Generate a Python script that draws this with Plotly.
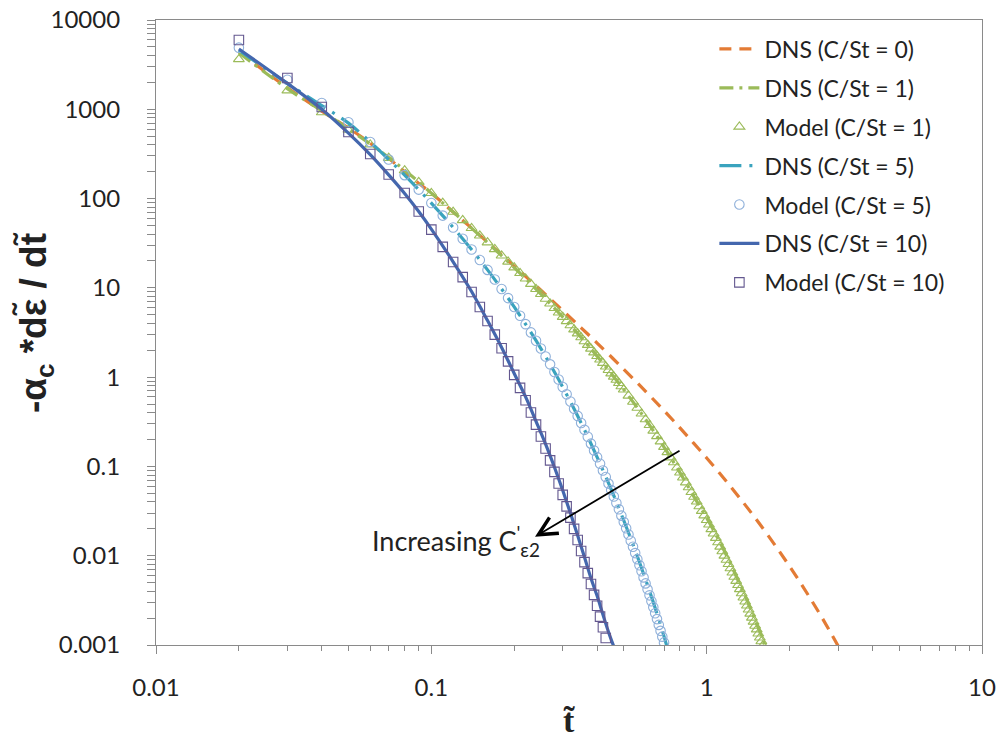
import math
import plotly.graph_objects as go

# ---------------- data ----------------
t_dns0 = [0.02, 0.03, 0.04, 0.05, 0.06, 0.07, 0.08, 0.09, 0.10, 0.12, 0.14, 0.17, 0.20, 0.25,
          0.30, 0.35, 0.40, 0.50, 0.60, 0.70, 0.80, 0.90, 1.0, 1.2, 1.4, 1.6, 1.8, 2.0, 2.2,
          2.4, 2.6, 2.8, 3.0]
y_dns0 = [4400, 1740, 955, 617, 417, 282, 200, 148, 115, 70.8, 46.7, 27.5, 17.5, 9.40,
          5.58, 3.57, 2.41, 1.225, 0.693, 0.422, 0.270, 0.180, 0.1245, 0.0636, 0.0350, 0.0203,
          0.01223, 0.00762, 0.00488, 0.00318, 0.00212, 0.00143, 0.00098]

t_dns1 = [0.02, 0.03, 0.04, 0.05, 0.06, 0.07, 0.08, 0.09, 0.10, 0.12, 0.15, 0.20, 0.25, 0.30,
          0.35, 0.40, 0.50, 0.60, 0.70, 0.80, 0.90, 1.0, 1.1, 1.2, 1.3, 1.4, 1.5, 1.6, 1.65]
y_dns1 = [4300, 1700, 960, 600, 410, 288, 208, 154, 115, 70.9, 38.5, 16.9, 8.52, 4.72,
          2.79, 1.72, 0.726, 0.336, 0.165, 0.0853, 0.0456, 0.0265, 0.0155, 0.0091, 0.0053,
          0.0032, 0.0019, 0.00115, 0.00088]

t_mod1 = [0.02, 0.03, 0.04, 0.05, 0.06, 0.07, 0.08, 0.09, 0.10, 0.11, 0.12, 0.13, 0.14, 0.15,
          0.16, 0.17, 0.18, 0.19, 0.20, 0.21, 0.22, 0.23, 0.24, 0.25, 0.26, 0.27, 0.28, 0.29,
          0.30, 0.31, 0.32, 0.33, 0.34, 0.35, 0.36, 0.37, 0.38, 0.39, 0.40, 0.41, 0.42, 0.43,
          0.44, 0.45, 0.46, 0.47, 0.48, 0.49, 0.50, 0.52, 0.54, 0.56, 0.58, 0.60, 0.62, 0.64,
          0.66, 0.68, 0.70, 0.72, 0.74, 0.76, 0.78, 0.80, 0.82, 0.84, 0.86, 0.88, 0.90, 0.92,
          0.94, 0.96, 0.98, 1.00, 1.02, 1.04, 1.06, 1.08, 1.10, 1.12, 1.14, 1.16, 1.18, 1.20,
          1.22, 1.24, 1.26, 1.28, 1.30, 1.32, 1.34, 1.36, 1.38, 1.40, 1.42, 1.44, 1.46, 1.48,
          1.50, 1.52, 1.54, 1.56, 1.58, 1.60]
y_mod1 = [3630, 1622, 923, 589, 403, 285, 207, 153, 115, 89.4, 70.9, 57.2, 46.7, 38.5,
          32.2, 27.1, 23.0, 19.6, 16.9, 14.6, 12.7, 11.06, 9.69, 8.52, 7.53, 6.67, 5.92, 5.28,
          4.72, 4.23, 3.80, 3.42, 3.08, 2.79, 2.52, 2.29, 2.08, 1.89, 1.72, 1.57, 1.44, 1.31,
          1.20, 1.10, 1.01, 0.931, 0.856, 0.788, 0.726, 0.619, 0.529, 0.453, 0.390, 0.336,
          0.290, 0.251, 0.218, 0.190, 0.165, 0.144, 0.126, 0.111, 0.0970, 0.0853, 0.0750,
          0.0661, 0.0583, 0.0515, 0.0456, 0.0403, 0.0357, 0.0317, 0.0282, 0.0250, 0.0223,
          0.0198, 0.0177, 0.0158, 0.0141, 0.0126, 0.0112, 0.0100, 0.00899, 0.00805, 0.00721,
          0.00647, 0.00580, 0.00521, 0.00468, 0.00421, 0.00378, 0.00340, 0.00306, 0.00276,
          0.00249, 0.00224, 0.00202, 0.00182, 0.00164, 0.00149, 0.00134, 0.00121, 0.00110,
          0.00099]

t_dns5 = [0.02, 0.03, 0.04, 0.05, 0.06, 0.07, 0.08, 0.10, 0.12, 0.14, 0.16, 0.18, 0.20, 0.22,
          0.25, 0.28, 0.30, 0.35, 0.40, 0.45, 0.50, 0.55, 0.60, 0.65, 0.70, 0.72]
y_dns5 = [4600, 1950, 1100, 700, 430, 274, 183, 89.1, 47.5, 26.9, 15.9, 9.72, 6.11, 3.92,
          2.09, 1.14, 0.776, 0.307, 0.127, 0.0555, 0.0248, 0.0115, 0.0054, 0.0026, 0.00125,
          0.00092]

t_mod5 = [0.02, 0.03, 0.04, 0.05, 0.06, 0.07, 0.08, 0.09, 0.10, 0.11, 0.12, 0.13, 0.14, 0.15,
          0.16, 0.17, 0.18, 0.19, 0.20, 0.21, 0.22, 0.23, 0.24, 0.25, 0.26, 0.27, 0.28, 0.29,
          0.30, 0.31, 0.32, 0.33, 0.34, 0.35, 0.36, 0.37, 0.38, 0.39, 0.40, 0.41, 0.42, 0.43,
          0.44, 0.45, 0.46, 0.47, 0.48, 0.49, 0.50, 0.51, 0.52, 0.53, 0.54, 0.55, 0.56, 0.57,
          0.58, 0.59, 0.60, 0.61, 0.62, 0.63, 0.64, 0.65, 0.66, 0.67, 0.68, 0.69, 0.70]
y_mod5 = [4900, 2140, 1175, 716, 430, 274, 183, 126, 89.1, 64.5, 47.5, 35.5, 26.9, 20.5,
          15.9, 12.4, 9.72, 7.68, 6.11, 4.88, 3.92, 3.17, 2.56, 2.09, 1.70, 1.39, 1.14, 0.941,
          0.776, 0.642, 0.533, 0.442, 0.368, 0.307, 0.257, 0.215, 0.180, 0.151, 0.127, 0.107,
          0.0902, 0.0760, 0.0642, 0.0543, 0.0460, 0.0390, 0.0331, 0.0281, 0.0239, 0.0203,
          0.0173, 0.0147, 0.0126, 0.0107, 0.00915, 0.00782, 0.00669, 0.00572, 0.00490,
          0.00420, 0.00360, 0.00309, 0.00265, 0.00227, 0.00195, 0.00168, 0.00144, 0.00124,
          0.00107]

t_dns10 = [0.02, 0.03, 0.04, 0.05, 0.06, 0.07, 0.08, 0.09, 0.10, 0.12, 0.14, 0.16, 0.18, 0.20,
           0.22, 0.24, 0.26, 0.28, 0.30, 0.32, 0.34, 0.36, 0.38, 0.40, 0.42, 0.44, 0.46]
y_dns10 = [4730, 1950, 1000, 540, 310, 184, 114, 71.5, 45.5, 19.6, 9.1, 4.3, 2.15, 1.10,
           0.60, 0.32, 0.178, 0.098, 0.054, 0.030, 0.0168, 0.0096, 0.0056, 0.00355, 0.00219,
           0.00140, 0.00096]

t_mod10 = [0.02, 0.03, 0.04, 0.05, 0.06, 0.07, 0.08, 0.09, 0.10, 0.11, 0.12, 0.13, 0.14, 0.15,
           0.16, 0.17, 0.18, 0.19, 0.20, 0.21, 0.22, 0.23, 0.24, 0.25, 0.26, 0.27, 0.28, 0.29,
           0.30, 0.31, 0.32, 0.33, 0.34, 0.35, 0.36, 0.37, 0.38, 0.39, 0.40, 0.41, 0.42, 0.43]
y_mod10 = [5970, 2239, 1062, 557, 316, 186, 115.6, 71.6, 44.9, 28.8, 19.5, 13.2, 8.99, 6.11,
           4.26, 2.99, 2.11, 1.50, 1.06, 0.759, 0.551, 0.402, 0.294, 0.216, 0.159, 0.117,
           0.0869, 0.0644, 0.0480, 0.0357, 0.0267, 0.0200, 0.0150, 0.0113, 0.00847, 0.00638,
           0.00482, 0.00364, 0.00275, 0.00208, 0.00158, 0.00120]

legend_names = ["DNS (C/St = 0)", "DNS (C/St = 1)", "Model (C/St = 1)", "DNS (C/St = 5)",
                "Model (C/St = 5)", "DNS (C/St = 10)", "Model (C/St = 10)"]

x_major = [0.01, 0.1, 1, 10]
x_major_text = ["0.01", "0.1", "1", "10"]
x_minor = [0.02, 0.03, 0.04, 0.05, 0.06, 0.07, 0.08, 0.09,
           0.2, 0.3, 0.4, 0.5, 0.6, 0.7, 0.8, 0.9,
           2, 3, 4, 5, 6, 7, 8, 9]
y_major = [0.001, 0.01, 0.1, 1, 10, 100, 1000, 10000]
y_major_text = ["0.001", "0.01", "0.1", "1", "10", "100", "1000", "10000"]
y_minor = [m * d for d in [0.001, 0.01, 0.1, 1, 10, 100, 1000] for m in range(2, 10)]

# arrow annotation (data units): tail -> head
arrow_tail = (0.807, 0.153)
arrow_head = (0.238, 0.0163)
label_pos = (0.0599, 0.01466)

# ---------------- styles ----------------
ORANGE = "#E37B35"
GREEN = "#9BBB59"
TEAL = "#3AA3BE"
LIGHTBLUE = "#8FB0DA"
BLUE = "#4467AE"
PURPLE = "#63578F"
AXIS = "#8A8A8A"
TXT = "#222222"
FONT = "Lato"

fig = go.Figure()

fig.add_trace(go.Scatter(x=t_dns0, y=y_dns0, mode="lines", name=legend_names[0],
                         legendgroup="g0",
                         line=dict(color=ORANGE, width=3.2, dash="12px,8px", shape="spline")))
fig.add_trace(go.Scatter(x=t_dns1, y=y_dns1, mode="lines", name=legend_names[1],
                         legendgroup="g1",
                         line=dict(color=GREEN, width=3.2, dash="14px,6px,3px,6px", shape="spline")))
fig.add_trace(go.Scatter(x=t_mod1, y=y_mod1, mode="markers", name=legend_names[2],
                         legendgroup="g2",
                         marker=dict(symbol="triangle-up-open", size=9.5, color=GREEN,
                                     line=dict(width=1.1, color=GREEN))))
fig.add_trace(go.Scatter(x=t_dns5, y=y_dns5, mode="lines", name=legend_names[3],
                         legendgroup="g3",
                         line=dict(color=TEAL, width=3.2, dash="22px,8px,3px,8px", shape="spline")))
fig.add_trace(go.Scatter(x=t_mod5, y=y_mod5, mode="markers", name=legend_names[4],
                         legendgroup="g4",
                         marker=dict(symbol="circle-open", size=9.5, color=LIGHTBLUE,
                                     line=dict(width=1.1, color=LIGHTBLUE))))
fig.add_trace(go.Scatter(x=t_dns10, y=y_dns10, mode="lines", name=legend_names[5],
                         legendgroup="g5",
                         line=dict(color=BLUE, width=3.2, shape="spline")))
fig.add_trace(go.Scatter(x=t_mod10, y=y_mod10, mode="markers", name=legend_names[6],
                         legendgroup="g6",
                         marker=dict(symbol="square-open", size=9.5, color=PURPLE,
                                     line=dict(width=1.1, color=PURPLE))))

tickfont = dict(family=FONT, size=24, color=TXT)

fig.update_layout(
    width=1000, height=752,
    margin=dict(l=156, r=18, t=20, b=107, autoexpand=False),
    paper_bgcolor="white", plot_bgcolor="white",
    showlegend=True,
    legend=dict(x=0.676, y=0.988, xanchor="left", yanchor="top",
                bgcolor="rgba(0,0,0,0)", font=dict(family=FONT, size=23, color=TXT),
                tracegroupgap=6, itemwidth=40),
    xaxis=dict(type="log", range=[-2, 1], showgrid=False, zeroline=False, automargin=False,
               showline=True, linecolor=AXIS, linewidth=1.2, mirror=True,
               tickmode="array", tickvals=x_major, ticktext=x_major_text,
               ticks="outside", ticklen=8, tickcolor=AXIS, tickwidth=1,
               tickfont=tickfont, ticklabelstandoff=13, ticklabeloverflow="allow",
               minor=dict(tickmode="array", tickvals=x_minor, ticks="outside",
                          ticklen=5, tickcolor=AXIS, tickwidth=1, showgrid=False)),
    yaxis=dict(type="log", range=[-3, 4], showgrid=False, zeroline=False, automargin=False,
               showline=True, linecolor=AXIS, linewidth=1.2, mirror=True,
               tickmode="array", tickvals=y_major, ticktext=y_major_text,
               ticks="outside", ticklen=8, tickcolor=AXIS, tickwidth=1,
               tickfont=tickfont, ticklabelstandoff=22, ticklabeloverflow="allow",
               minor=dict(tickmode="array", tickvals=y_minor, ticks="outside",
                          ticklen=8, tickcolor=AXIS, tickwidth=1, showgrid=False)),
    xaxis2=dict(type="log", range=[-2, 1], overlaying="x", anchor="y", side="bottom",
                showgrid=False, zeroline=False, showline=False, automargin=False,
                tickmode="array", tickvals=x_major, ticks="inside", ticklen=8,
                tickcolor=AXIS, showticklabels=False),
    yaxis2=dict(type="log", range=[-3, 4], overlaying="y", anchor="x", side="left",
                showgrid=False, zeroline=False, showline=False, automargin=False,
                tickmode="array", tickvals=y_major, ticks="inside", ticklen=8,
                tickcolor=AXIS, showticklabels=False),
)

fig.add_annotation(x=math.log10(arrow_head[0]), y=math.log10(arrow_head[1]),
                   ax=math.log10(arrow_tail[0]), ay=math.log10(arrow_tail[1]),
                   xref="x", yref="y", axref="x", ayref="y", text="",
                   showarrow=True, arrowhead=5, arrowsize=2.0, arrowwidth=1.8,
                   arrowcolor="black")
fig.add_annotation(x=math.log10(label_pos[0]), y=math.log10(label_pos[1]), xref="x", yref="y",
                   text="Increasing C<sup>'</sup><sub>ε2</sub>", showarrow=False,
                   xanchor="left", yanchor="middle",
                   font=dict(family=FONT, size=27, color=TXT))
fig.add_annotation(x=-0.1465, y=0.515, xref="paper", yref="paper",
                   text="<b>-α<sub>c</sub> *dε\u0303 / dt\u0303</b>", textangle=-90,
                   showarrow=False, xanchor="center", yanchor="middle",
                   font=dict(family="Liberation Sans", size=37, color=TXT))
fig.add_annotation(x=0.5, y=-0.12, xref="paper", yref="paper",
                   text="<b>t\u0303</b>", showarrow=False, xanchor="center", yanchor="middle",
                   font=dict(family="Liberation Serif", size=34, color=TXT))

# remove the browser's default 8 px body margin so the 1000x752 figure fills the window
fig.write_html("out.html",
               config={"displayModeBar": False},
               post_script="document.body.style.margin='0';document.body.style.overflow='hidden';")
